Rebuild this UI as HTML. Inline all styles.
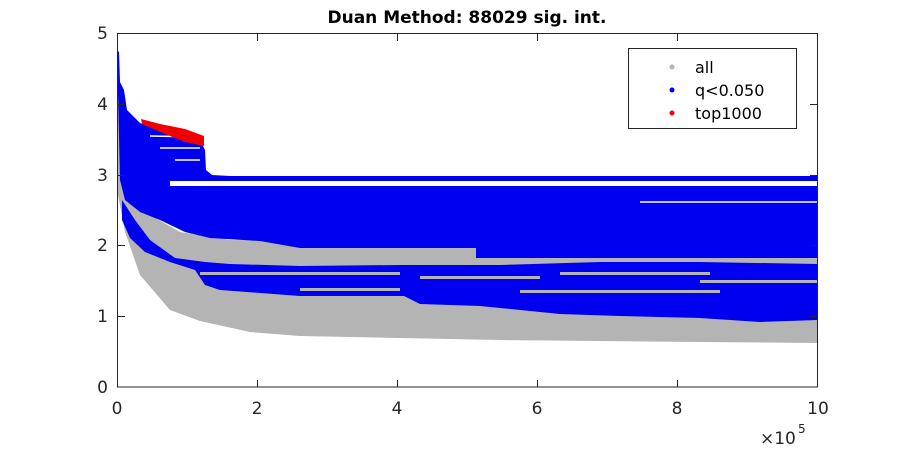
<!DOCTYPE html>
<html><head><style>body{margin:0;background:#fff}svg{display:block}text{font-family:"DejaVu Sans","Liberation Sans",sans-serif}</style></head><body>
<svg width="900" height="450" viewBox="0 0 900 450" xmlns="http://www.w3.org/2000/svg">
<rect width="900" height="450" fill="#fff"/>
<clipPath id="c"><rect x="117" y="33" width="701" height="354"/></clipPath>
<g clip-path="url(#c)">
<path fill="#b4b4b4" d="M117,110 L121,90 L126,150 L135,190 L150,215 L180,232 L230,240 L818,245 L818,343 L700,342 L500,340 L400,338 L300,336 L250,332 L200,321 L170,310 L140,275 L125,232 L119,200 L117,190 Z"/>
<path fill="#0000f0" d="M117,50 L119,52 L120,82 L124,90 L127,110 L140,123 L170,134 L200,140 L205,150 L206,170 L212,175 L230,176 L818,176 L818,258 L476,258 L476,248 L300,248 L260,241 L210,238 L185,232 L160,220 L140,212 L125,200 L120,180 Z"/>
<rect x="170" y="181" width="648" height="5" fill="#fff"/>
<path fill="none" stroke="#fff" stroke-width="1.5" d="M150,136 L200,137 M160,148 L200,148 M175,160 L200,160 M640,202 L818,202"/>
<path fill="#0000f0" d="M122,200 L135,220 L150,240 L175,258 L205,262 L230,264 L300,266 L400,265 L500,265 L600,262 L700,262 L818,264 L818,300 L700,298 L600,300 L500,296 L400,296 L300,296 L220,290 L205,285 L195,270 L170,262 L145,252 L130,238 L122,220 Z"/>
<path fill="#0000f0" d="M400,294 L500,292 L600,294 L700,296 L818,296 L818,320 L760,322 L700,318 L620,316 L560,314 L480,306 L420,304 Z"/>
<g fill="#b4b4b4">
<rect x="200" y="272" width="200" height="3"/><rect x="420" y="276" width="120" height="3"/><rect x="560" y="272" width="150" height="3"/><rect x="300" y="288" width="100" height="3"/><rect x="520" y="290" width="200" height="3"/><rect x="700" y="280" width="118" height="3"/>
</g>
<path fill="#f00000" d="M141,119 L160,124 L185,129 L204,136 L204,146 L185,142 L165,134 L142,124 Z"/>
</g>
<g stroke="#262626" stroke-width="1" fill="none">
<rect x="117.5" y="33.5" width="700" height="353.5"/>
<path d="M257.5,387V380M397.5,387V380M537.5,387V380M677.5,387V380M257.5,34V41M397.5,34V41M537.5,34V41M677.5,34V41M118,104.5h7M118,175.5h7M118,245.5h7M118,316.5h7M817,104.5h-7M817,175.5h-7M817,245.5h-7M817,316.5h-7"/>
</g>
<g font-size="17" fill="#262626">
<g text-anchor="end"><text x="108" y="39">5</text><text x="108" y="110">4</text><text x="108" y="181">3</text><text x="108" y="251">2</text><text x="108" y="322">1</text><text x="108" y="393">0</text></g>
<g text-anchor="middle"><text x="117" y="414">0</text><text x="257" y="414">2</text><text x="397" y="414">4</text><text x="537" y="414">6</text><text x="677" y="414">8</text><text x="818" y="414">10</text></g>
<text x="760" y="444">×10</text><text x="798" y="433" font-size="12">5</text>
</g>
<text x="467" y="23" text-anchor="middle" font-size="17" font-weight="bold" fill="#000">Duan Method: 88029 sig. int.</text>
<rect x="628.5" y="48.5" width="168" height="80" fill="#fff" stroke="#262626"/>
<circle cx="672" cy="67" r="2.5" fill="#b4b4b4"/><circle cx="672" cy="90" r="2.5" fill="#0000f0"/><circle cx="672" cy="113" r="2.5" fill="#f00000"/>
<g font-size="16" fill="#000"><text x="695" y="73">all</text><text x="695" y="96">q&lt;0.050</text><text x="695" y="119">top1000</text></g>
</svg>
</body></html>
